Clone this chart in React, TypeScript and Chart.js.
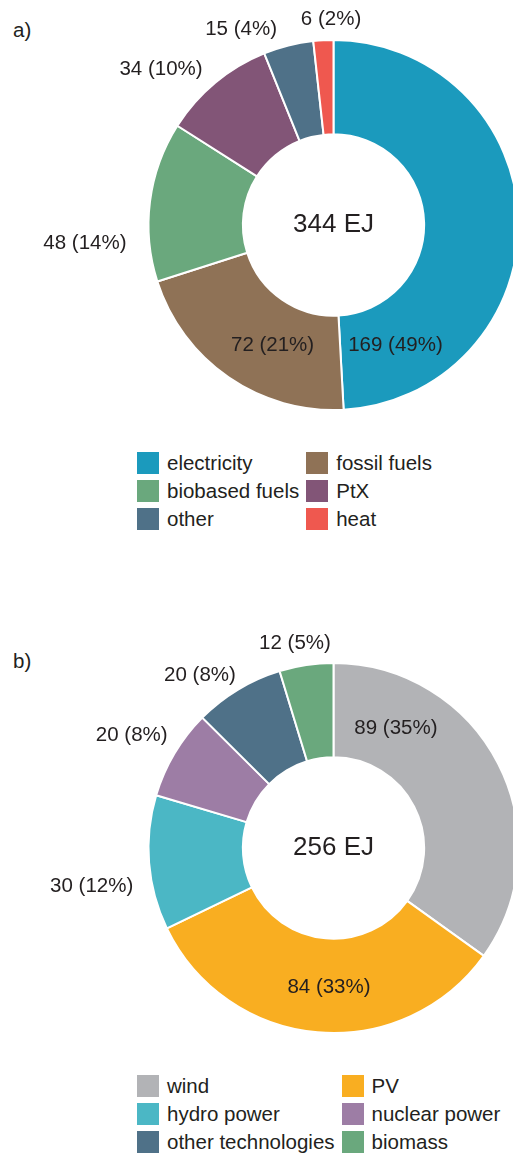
import React, { useEffect, useRef } from "react";
import { Chart, registerables } from "chart.js";

Chart.register(...registerables);

// ---------- data ----------
const categoriesA = ["electricity", "fossil fuels", "biobased fuels", "PtX", "other", "heat"];
const valuesA = [169, 72, 48, 34, 15, 6];
const totalA = 344;

const categoriesB = ["wind", "PV", "hydro power", "nuclear power", "other technologies", "biomass"];
const valuesB = [89, 84, 30, 20, 20, 12];
const totalB = 256;

const unit = "EJ";
const panelTitles = ["a)", "b)"];

// ---------- styles ----------
const colorsA = ["#1B9ABD", "#8F7256", "#6AA87D", "#825577", "#4F7188", "#EF584F"];
const colorsB = ["#B2B3B6", "#F9AE21", "#4BB7C5", "#9D7DA5", "#4F7188", "#6AA87D"];
const FONT = '"Liberation Sans", Arial, Helvetica, sans-serif';
const TEXT = "#231F20";

// label placement inside each slice: [fraction along slice angle, radius factor]
const placementA = [
  [0.864, 0.733],
  [0.397, 0.731],
  [0.272, 1.347],
  [0.271, 1.256],
  [-0.21, 1.17],
  [0.89, 1.114],
];
const placementB = [
  [0.219, 0.73],
  [0.474, 0.752],
  [0.393, 1.324],
  [0.448, 1.25],
  [0.266, 1.181],
  [0.371, 1.126],
];

const sliceLabels = {
  id: "sliceLabels",
  afterDatasetsDraw(chart: any, _args: any, opts: any) {
    const { ctx } = chart;
    const meta = chart.getDatasetMeta(0);
    const values = chart.data.datasets[0].data as number[];
    ctx.save();
    ctx.fillStyle = TEXT;
    ctx.textAlign = "center";
    ctx.textBaseline = "middle";
    ctx.font = `${opts.size}px ${FONT}`;
    meta.data.forEach((arc: any, i: number) => {
      const p = arc.getProps(["x", "y", "startAngle", "endAngle", "outerRadius"], true);
      const [t, rf] = opts.placement[i];
      const a = p.startAngle + t * (p.endAngle - p.startAngle);
      const r = rf * p.outerRadius;
      const pct = Math.round((values[i] / opts.total) * 100);
      ctx.fillText(`${values[i]} (${pct}%)`, p.x + r * Math.cos(a), p.y + r * Math.sin(a));
    });
    const c = meta.data[0];
    ctx.font = `${opts.centerSize}px ${FONT}`;
    ctx.fillText(`${opts.total} ${unit}`, c.x, c.y);
    ctx.restore();
  },
};

function Donut({ labels, values, colors, total, placement, top }: any) {
  const ref = useRef<HTMLCanvasElement | null>(null);
  useEffect(() => {
    if (!ref.current) return;
    const chart = new Chart(ref.current, {
      type: "doughnut",
      data: {
        labels,
        datasets: [
          {
            data: values,
            backgroundColor: colors,
            borderColor: "#FFFFFF",
            borderWidth: 2,
            clip: false,
          } as any,
        ],
      },
      options: {
        responsive: false,
        animation: false,
        devicePixelRatio: 1,
        radius: 185,
        cutout: "49%",
        layout: { padding: { left: 154, right: 0, top: 0, bottom: 0 } },
        plugins: {
          legend: { display: false },
          tooltip: { enabled: false },
          sliceLabels: { size: 20.5, centerSize: 26, total, placement },
        } as any,
      },
      plugins: [sliceLabels],
    });
    return () => chart.destroy();
  }, []);
  return (
    <canvas
      ref={ref}
      width={513}
      height={450}
      style={{ position: "absolute", left: 0, top, width: 513, height: 450 }}
    />
  );
}

function Legend({ labels, colors, top }: any) {
  return (
    <div
      style={{
        position: "absolute",
        left: 137,
        top,
        display: "grid",
        gridTemplateColumns: "auto auto",
        columnGap: 7,
        rowGap: 6,
        fontFamily: FONT,
        fontSize: 20.5,
        color: TEXT,
      }}
    >
      {labels.map((l: string, i: number) => (
        <div key={l} style={{ display: "flex", alignItems: "center", height: 22, whiteSpace: "nowrap" }}>
          <span style={{ display: "inline-block", width: 22, height: 22, background: colors[i], marginRight: 8 }} />
          <span style={{ lineHeight: "22px" }}>{l}</span>
        </div>
      ))}
    </div>
  );
}

export default function App() {
  const titleStyle: any = {
    position: "absolute",
    left: 13,
    fontFamily: FONT,
    fontSize: 20.5,
    color: TEXT,
    lineHeight: "24px",
  };
  return (
    <div
      style={{
        position: "absolute",
        left: 0,
        top: 0,
        width: 513,
        height: 1155,
        overflow: "hidden",
        background: "#FFFFFF",
      }}
    >
      <div style={{ ...titleStyle, top: 18 }}>{panelTitles[0]}</div>
      <Donut labels={categoriesA} values={valuesA} colors={colorsA} total={totalA} placement={placementA} top={0} />
      <Legend labels={categoriesA} colors={colorsA} top={452} />

      <div style={{ ...titleStyle, top: 649 }}>{panelTitles[1]}</div>
      <Donut labels={categoriesB} values={valuesB} colors={colorsB} total={totalB} placement={placementB} top={623} />
      <Legend labels={categoriesB} colors={colorsB} top={1075} />
    </div>
  );
}
